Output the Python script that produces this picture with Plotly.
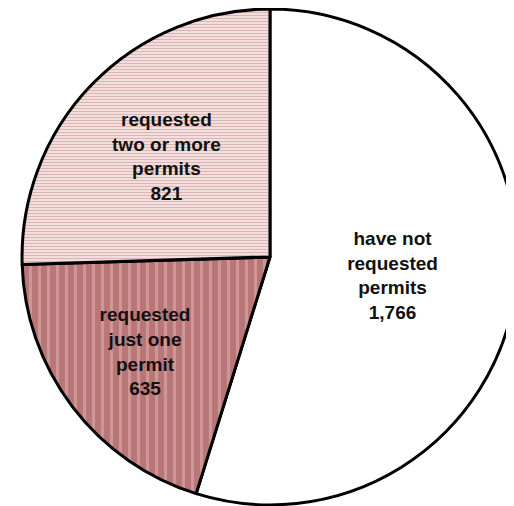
import plotly.graph_objects as go

labels = ["have not<br>requested<br>permits", "requested<br>just one<br>permit", "requested<br>two or more<br>permits"]
values = [1766, 635, 821]
colors = ["#ffffff", "#b97676", "#f3dede"]
patterns = ["", "|", "-"]
pattern_fg = ["#ffffff", "#e3b6b6", "#c48a8a"]
pattern_size = [8, 9, 3]

fig = go.Figure(go.Pie(
    labels=labels,
    values=values,
    sort=False,
    direction="clockwise",
    rotation=0,
    texttemplate="%{label}<br>%{value:,}",
    textposition="inside",
    insidetextorientation="horizontal",
    textfont=dict(family="Liberation Sans", size=19, color="#111111", weight="bold"),
    marker=dict(
        colors=colors,
        line=dict(color="#000000", width=3),
        pattern=dict(shape=patterns, fgcolor=pattern_fg, bgcolor=colors,
                     size=pattern_size, solidity=0.35, fillmode="overlay"),
    ),
    domain=dict(x=[0.0272, 0.9922], y=[0.018, 0.998]),
    showlegend=False,
    hoverinfo="label+value",
))

fig.update_layout(
    width=514, height=506,
    margin=dict(l=0, r=0, t=0, b=0),
    paper_bgcolor="#ffffff",
    plot_bgcolor="#ffffff",
    font=dict(family="Liberation Sans"),
    uniformtext=dict(minsize=10, mode="show"),
)

fig.write_html("out.html")
